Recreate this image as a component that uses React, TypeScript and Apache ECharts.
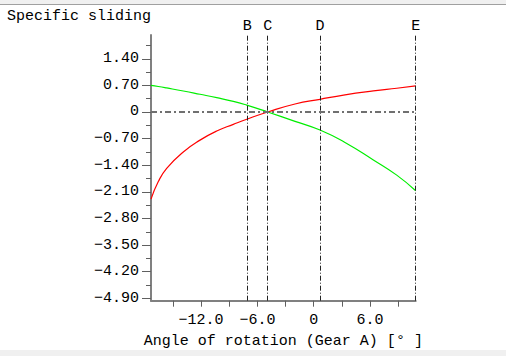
import React, { useEffect, useRef } from "react";
import * as echarts from "echarts";

// Angle of rotation (Gear A) [°]
const angleX = [-17.33, -16.55, -15.66, -13.89, -12.11, -10.33, -8.56, -7.13, -4.9, -1.99, 0.67, 3.33, 6.35, 8.84, 10.86];
// Specific sliding, red curve
const slidingRed = [-2.29, -1.83, -1.48, -1.05, -0.74, -0.5, -0.325, -0.19, 0, 0.21, 0.334, 0.45, 0.553, 0.625, 0.685];
// Specific sliding, green curve
const slidingGreen = [0.7, 0.67, 0.632, 0.553, 0.466, 0.377, 0.28, 0.18, 0, -0.245, -0.474, -0.8, -1.26, -1.66, -2.07];

const yLabelValues = [1.4, 0.7, 0, -0.7, -1.4, -2.1, -2.8, -3.5, -4.2, -4.9];
const yMinorValues = [1.75, 1.05, 0.35, -0.35, -1.05, -1.75, -2.45, -3.15, -3.85, -4.55];
const xLabelValues = [-12, -6, 0, 6];
const xTickValues = [-15, -12, -9, -6, -3, 0, 3, 6, 9];

const markerNames = ["B", "C", "D", "E"];
const markerX = [-7.09, -4.9, 0.67, 10.86];

const xRange = [-17.33, 10.86];
const yRange = [-4.963, 2.025];

const FONT = '"Liberation Mono", "DejaVu Sans Mono", monospace';

const fmt = (v: number, d: number) =>
  Math.abs(v) < 1e-9 ? "0" : (v < 0 ? "\u2212" : "") + Math.abs(v).toFixed(d);

export default function App() {
  const ref = useRef<HTMLDivElement>(null);

  useEffect(() => {
    document.body.style.margin = "0";
    document.body.style.background = "#ffffff";
    if (!ref.current) return;
    const chart = echarts.init(ref.current, null, { renderer: "svg" });

    const axisGray = "#808080";

    chart.setOption({
      animation: false,
      backgroundColor: "#ffffff",
      grid: { left: 151, top: 35, width: 264.7, height: 265.7 },
      xAxis: [
        {
          type: "value",
          min: xRange[0],
          max: xRange[1],
          axisLine: { onZero: false, lineStyle: { color: axisGray, width: 2 } },
          axisTick: {
            customValues: xTickValues,
            length: 6,
            lineStyle: { color: "#606060", width: 1 },
          },
          axisLabel: {
            customValues: xLabelValues,
            formatter: (v: number) => fmt(v, 1),
            color: "#000",
            fontFamily: FONT,
            fontSize: 15,
            margin: 12,
          },
          splitLine: { show: false },
          name: "Angle of rotation (Gear A) [\u00b0 ]",
          nameLocation: "middle",
          nameGap: 33,
          nameTextStyle: { color: "#000", fontFamily: FONT, fontSize: 15 },
        },
      ],
      yAxis: [
        {
          type: "value",
          min: yRange[0],
          max: yRange[1],
          axisLine: { show: true, onZero: false, lineStyle: { color: axisGray, width: 2 } },
          axisTick: {
            show: true,
            customValues: yLabelValues,
            length: 9,
            lineStyle: { color: "#606060", width: 1 },
          },
          axisLabel: {
            customValues: yLabelValues,
            formatter: (v: number) => fmt(v, 2),
            color: "#000",
            fontFamily: FONT,
            fontSize: 15,
            margin: 12,
          },
          splitLine: { show: false },
        },
        {
          type: "value",
          position: "left",
          min: yRange[0],
          max: yRange[1],
          axisLine: { show: false, onZero: false },
          axisTick: {
            show: true,
            customValues: yMinorValues,
            length: 5,
            lineStyle: { color: "#606060", width: 1 },
          },
          axisLabel: { show: false },
          splitLine: { show: false },
        },
      ],
      graphic: [
        { type: "rect", shape: { x: 0, y: 0, width: 506, height: 4 }, style: { fill: "#f0f0f0" }, silent: true },
        { type: "rect", shape: { x: 0, y: 4, width: 506, height: 1 }, style: { fill: "#a0a0a0" }, silent: true },
        { type: "rect", shape: { x: 0, y: 350, width: 506, height: 6 }, style: { fill: "#f0f0f0" }, silent: true },
        {
          type: "text",
          left: 7,
          top: 9,
          style: { text: "Specific sliding", fill: "#000", font: `15px ${FONT}` },
          silent: true,
        },
      ],
      series: [
        {
          type: "line",
          name: "red",
          xAxisIndex: 0,
          yAxisIndex: 0,
          data: angleX.map((x, i) => [x, slidingRed[i]]),
          showSymbol: false,
          smooth: true,
          lineStyle: { color: "#ff0000", width: 1.2 },
          silent: true,
          z: 3,
          markLine: {
            silent: true,
            symbol: "none",
            animation: false,
            data: [
              ...markerNames.map((n, i) => ({
                name: n,
                xAxis: markerX[i],
                lineStyle: { color: "#222", width: 1, type: [5, 2, 1, 2] },
                label: {
                  show: true,
                  position: "end",
                  formatter: "{b}",
                  color: "#000",
                  fontFamily: FONT,
                  fontSize: 15,
                  distance: 1,
                },
              })),
              {
                name: "zero",
                yAxis: 0,
                lineStyle: { color: "#707070", width: 2, type: [6, 3, 2, 3] },
                label: { show: false },
              },
            ],
          },
        },
        {
          type: "line",
          name: "green",
          xAxisIndex: 0,
          yAxisIndex: 0,
          data: angleX.map((x, i) => [x, slidingGreen[i]]),
          showSymbol: false,
          smooth: true,
          lineStyle: { color: "#00ee00", width: 1.2 },
          silent: true,
          z: 3,
        },
      ],
    });

    return () => chart.dispose();
  }, []);

  return <div ref={ref} style={{ width: 506, height: 356 }} />;
}
